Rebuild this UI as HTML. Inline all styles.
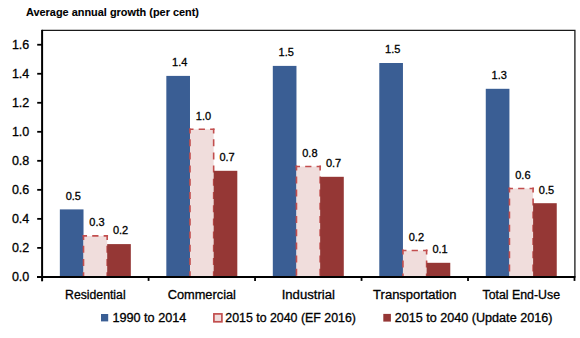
<!DOCTYPE html>
<html><head><meta charset="utf-8"><style>
html,body{margin:0;padding:0;background:#fff;width:580px;height:338px;overflow:hidden}
svg{display:block}
text{font-family:"Liberation Sans",sans-serif;fill:#000;stroke:#000;stroke-width:0.3px}
.ttl{font-weight:bold;font-size:11px;stroke-width:0.1px}
.yl{font-size:12px}
.dl{font-size:11px}
.cat{font-size:12.5px}
.lg{font-size:12px}
</style></head><body>
<svg width="580" height="338" viewBox="0 0 580 338">
<path d="M42.1 30.3 H574.9 V276.9" fill="none" stroke="#1a1a1a" stroke-width="1.3"/>
<rect x="59.85" y="209.40" width="23.66" height="67.50" fill="#3A5E94"/>
<rect x="83.51" y="235.90" width="23.66" height="41.00" fill="#F0DDDC"/>
<path d="M82.61 235.90 H108.07" stroke="#C24E4E" stroke-width="1.6" stroke-dasharray="4.43 5.17 6.26 5.17 6.43"/>
<path d="M83.51 235.00 V276.90" stroke="#C24E4E" stroke-width="1.6" stroke-dasharray="5 5.8 7 6.2 7 6.2 7 6.2 7 6.2 7 6.2 7 6.2 7 6.2 7 6.2 7 6.2 7 6.2 7 6.2 7 6.2 7 6.2 7 6.2"/>
<path d="M107.17 235.00 V276.90" stroke="#C24E4E" stroke-width="1.6" stroke-dasharray="5 5.8 7 6.2 7 6.2 7 6.2 7 6.2 7 6.2 7 6.2 7 6.2 7 6.2 7 6.2 7 6.2 7 6.2 7 6.2 7 6.2 7 6.2"/>
<rect x="107.17" y="244.10" width="23.66" height="32.80" fill="#953735"/>
<text x="73.28" y="199.70" class="dl" text-anchor="middle">0.5</text>
<text x="96.94" y="226.30" class="dl" text-anchor="middle">0.3</text>
<text x="120.60" y="234.40" class="dl" text-anchor="middle">0.2</text>
<text x="95.34" y="298.9" class="cat" text-anchor="middle" textLength="60.6" lengthAdjust="spacingAndGlyphs">Residential</text>
<rect x="166.33" y="75.90" width="23.66" height="201.00" fill="#3A5E94"/>
<rect x="189.99" y="129.30" width="23.66" height="147.60" fill="#F0DDDC"/>
<path d="M189.09 129.30 H214.55" stroke="#C24E4E" stroke-width="1.6" stroke-dasharray="4.43 5.17 6.26 5.17 6.43"/>
<path d="M189.99 128.40 V276.90" stroke="#C24E4E" stroke-width="1.6" stroke-dasharray="5 5.8 7 6.2 7 6.2 7 6.2 7 6.2 7 6.2 7 6.2 7 6.2 7 6.2 7 6.2 7 6.2 7 6.2 7 6.2 7 6.2 7 6.2"/>
<path d="M213.65 128.40 V276.90" stroke="#C24E4E" stroke-width="1.6" stroke-dasharray="5 5.8 7 6.2 7 6.2 7 6.2 7 6.2 7 6.2 7 6.2 7 6.2 7 6.2 7 6.2 7 6.2 7 6.2 7 6.2 7 6.2 7 6.2"/>
<rect x="213.65" y="170.80" width="23.66" height="106.10" fill="#953735"/>
<text x="179.76" y="66.20" class="dl" text-anchor="middle">1.4</text>
<text x="203.42" y="119.70" class="dl" text-anchor="middle">1.0</text>
<text x="227.08" y="161.10" class="dl" text-anchor="middle">0.7</text>
<text x="201.82" y="298.9" class="cat" text-anchor="middle" textLength="68.3" lengthAdjust="spacingAndGlyphs">Commercial</text>
<rect x="272.81" y="65.90" width="23.66" height="211.00" fill="#3A5E94"/>
<rect x="296.47" y="166.50" width="23.66" height="110.40" fill="#F0DDDC"/>
<path d="M295.57 166.50 H321.03" stroke="#C24E4E" stroke-width="1.6" stroke-dasharray="4.43 5.17 6.26 5.17 6.43"/>
<path d="M296.47 165.60 V276.90" stroke="#C24E4E" stroke-width="1.6" stroke-dasharray="5 5.8 7 6.2 7 6.2 7 6.2 7 6.2 7 6.2 7 6.2 7 6.2 7 6.2 7 6.2 7 6.2 7 6.2 7 6.2 7 6.2 7 6.2"/>
<path d="M320.13 165.60 V276.90" stroke="#C24E4E" stroke-width="1.6" stroke-dasharray="5 5.8 7 6.2 7 6.2 7 6.2 7 6.2 7 6.2 7 6.2 7 6.2 7 6.2 7 6.2 7 6.2 7 6.2 7 6.2 7 6.2 7 6.2"/>
<rect x="320.13" y="176.80" width="23.66" height="100.10" fill="#953735"/>
<text x="286.24" y="56.20" class="dl" text-anchor="middle">1.5</text>
<text x="309.90" y="156.90" class="dl" text-anchor="middle">0.8</text>
<text x="333.56" y="167.10" class="dl" text-anchor="middle">0.7</text>
<text x="308.30" y="298.9" class="cat" text-anchor="middle" textLength="53.2" lengthAdjust="spacingAndGlyphs">Industrial</text>
<rect x="379.29" y="63.00" width="23.66" height="213.90" fill="#3A5E94"/>
<rect x="402.95" y="250.50" width="23.66" height="26.40" fill="#F0DDDC"/>
<path d="M402.05 250.50 H427.51" stroke="#C24E4E" stroke-width="1.6" stroke-dasharray="4.43 5.17 6.26 5.17 6.43"/>
<path d="M402.95 249.60 V276.90" stroke="#C24E4E" stroke-width="1.6" stroke-dasharray="5 5.8 7 6.2 7 6.2 7 6.2 7 6.2 7 6.2 7 6.2 7 6.2 7 6.2 7 6.2 7 6.2 7 6.2 7 6.2 7 6.2 7 6.2"/>
<path d="M426.61 249.60 V276.90" stroke="#C24E4E" stroke-width="1.6" stroke-dasharray="5 5.8 7 6.2 7 6.2 7 6.2 7 6.2 7 6.2 7 6.2 7 6.2 7 6.2 7 6.2 7 6.2 7 6.2 7 6.2 7 6.2 7 6.2"/>
<rect x="426.61" y="262.80" width="23.66" height="14.10" fill="#953735"/>
<text x="392.72" y="53.30" class="dl" text-anchor="middle">1.5</text>
<text x="416.38" y="240.90" class="dl" text-anchor="middle">0.2</text>
<text x="440.04" y="253.10" class="dl" text-anchor="middle">0.1</text>
<text x="414.78" y="298.9" class="cat" text-anchor="middle" textLength="83.3" lengthAdjust="spacingAndGlyphs">Transportation</text>
<rect x="485.77" y="88.80" width="23.66" height="188.10" fill="#3A5E94"/>
<rect x="509.43" y="188.50" width="23.66" height="88.40" fill="#F0DDDC"/>
<path d="M508.53 188.50 H533.99" stroke="#C24E4E" stroke-width="1.6" stroke-dasharray="4.43 5.17 6.26 5.17 6.43"/>
<path d="M509.43 187.60 V276.90" stroke="#C24E4E" stroke-width="1.6" stroke-dasharray="5 5.8 7 6.2 7 6.2 7 6.2 7 6.2 7 6.2 7 6.2 7 6.2 7 6.2 7 6.2 7 6.2 7 6.2 7 6.2 7 6.2 7 6.2"/>
<path d="M533.09 187.60 V276.90" stroke="#C24E4E" stroke-width="1.6" stroke-dasharray="5 5.8 7 6.2 7 6.2 7 6.2 7 6.2 7 6.2 7 6.2 7 6.2 7 6.2 7 6.2 7 6.2 7 6.2 7 6.2 7 6.2 7 6.2"/>
<rect x="533.09" y="203.20" width="23.66" height="73.70" fill="#953735"/>
<text x="499.20" y="79.10" class="dl" text-anchor="middle">1.3</text>
<text x="522.86" y="178.90" class="dl" text-anchor="middle">0.6</text>
<text x="546.52" y="193.50" class="dl" text-anchor="middle">0.5</text>
<text x="521.26" y="298.9" class="cat" text-anchor="middle" textLength="77.5" lengthAdjust="spacingAndGlyphs">Total End-Use</text>
<path d="M42.1 29.8 V281.3" stroke="#000" stroke-width="2"/>
<path d="M37 276.9 H575.4" stroke="#000" stroke-width="2"/>
<path d="M37.2 276.90 H42.1" stroke="#000" stroke-width="1.8"/>
<text x="29.3" y="281.30" class="yl" text-anchor="end" textLength="17.4" lengthAdjust="spacingAndGlyphs">0.0</text>
<path d="M37.2 247.88 H42.1" stroke="#000" stroke-width="1.8"/>
<text x="29.3" y="252.28" class="yl" text-anchor="end" textLength="17.4" lengthAdjust="spacingAndGlyphs">0.2</text>
<path d="M37.2 218.86 H42.1" stroke="#000" stroke-width="1.8"/>
<text x="29.3" y="223.26" class="yl" text-anchor="end" textLength="17.4" lengthAdjust="spacingAndGlyphs">0.4</text>
<path d="M37.2 189.84 H42.1" stroke="#000" stroke-width="1.8"/>
<text x="29.3" y="194.24" class="yl" text-anchor="end" textLength="17.4" lengthAdjust="spacingAndGlyphs">0.6</text>
<path d="M37.2 160.82 H42.1" stroke="#000" stroke-width="1.8"/>
<text x="29.3" y="165.22" class="yl" text-anchor="end" textLength="17.4" lengthAdjust="spacingAndGlyphs">0.8</text>
<path d="M37.2 131.80 H42.1" stroke="#000" stroke-width="1.8"/>
<text x="29.3" y="136.20" class="yl" text-anchor="end" textLength="17.4" lengthAdjust="spacingAndGlyphs">1.0</text>
<path d="M37.2 102.78 H42.1" stroke="#000" stroke-width="1.8"/>
<text x="29.3" y="107.18" class="yl" text-anchor="end" textLength="17.4" lengthAdjust="spacingAndGlyphs">1.2</text>
<path d="M37.2 73.76 H42.1" stroke="#000" stroke-width="1.8"/>
<text x="29.3" y="78.16" class="yl" text-anchor="end" textLength="17.4" lengthAdjust="spacingAndGlyphs">1.4</text>
<path d="M37.2 44.74 H42.1" stroke="#000" stroke-width="1.8"/>
<text x="29.3" y="49.14" class="yl" text-anchor="end" textLength="17.4" lengthAdjust="spacingAndGlyphs">1.6</text>
<path d="M148.58 276.9 V280.9" stroke="#000" stroke-width="1.8"/>
<path d="M255.06 276.9 V280.9" stroke="#000" stroke-width="1.8"/>
<path d="M361.54 276.9 V280.9" stroke="#000" stroke-width="1.8"/>
<path d="M468.02 276.9 V280.9" stroke="#000" stroke-width="1.8"/>
<path d="M574.50 276.9 V280.9" stroke="#000" stroke-width="1.8"/>
<text x="26" y="15.9" class="ttl" textLength="173" lengthAdjust="spacingAndGlyphs">Average annual growth (per cent)</text>
<rect x="101" y="314" width="7.2" height="7.4" fill="#3A5E94"/>
<text x="112.4" y="321.8" class="lg" textLength="74.0" lengthAdjust="spacingAndGlyphs">1990 to 2014</text>
<rect x="213.9" y="313.9" width="8.0" height="7.9" fill="#F0DDDC" stroke="#C24E4E" stroke-width="1.7"/>
<text x="225.3" y="321.8" class="lg" textLength="130.6" lengthAdjust="spacingAndGlyphs">2015 to 2040 (EF 2016)</text>
<rect x="383.3" y="313.9" width="7.6" height="7.7" fill="#953735"/>
<text x="394.7" y="321.8" class="lg" textLength="157.7" lengthAdjust="spacingAndGlyphs">2015 to 2040 (Update 2016)</text>
</svg>
</body></html>
